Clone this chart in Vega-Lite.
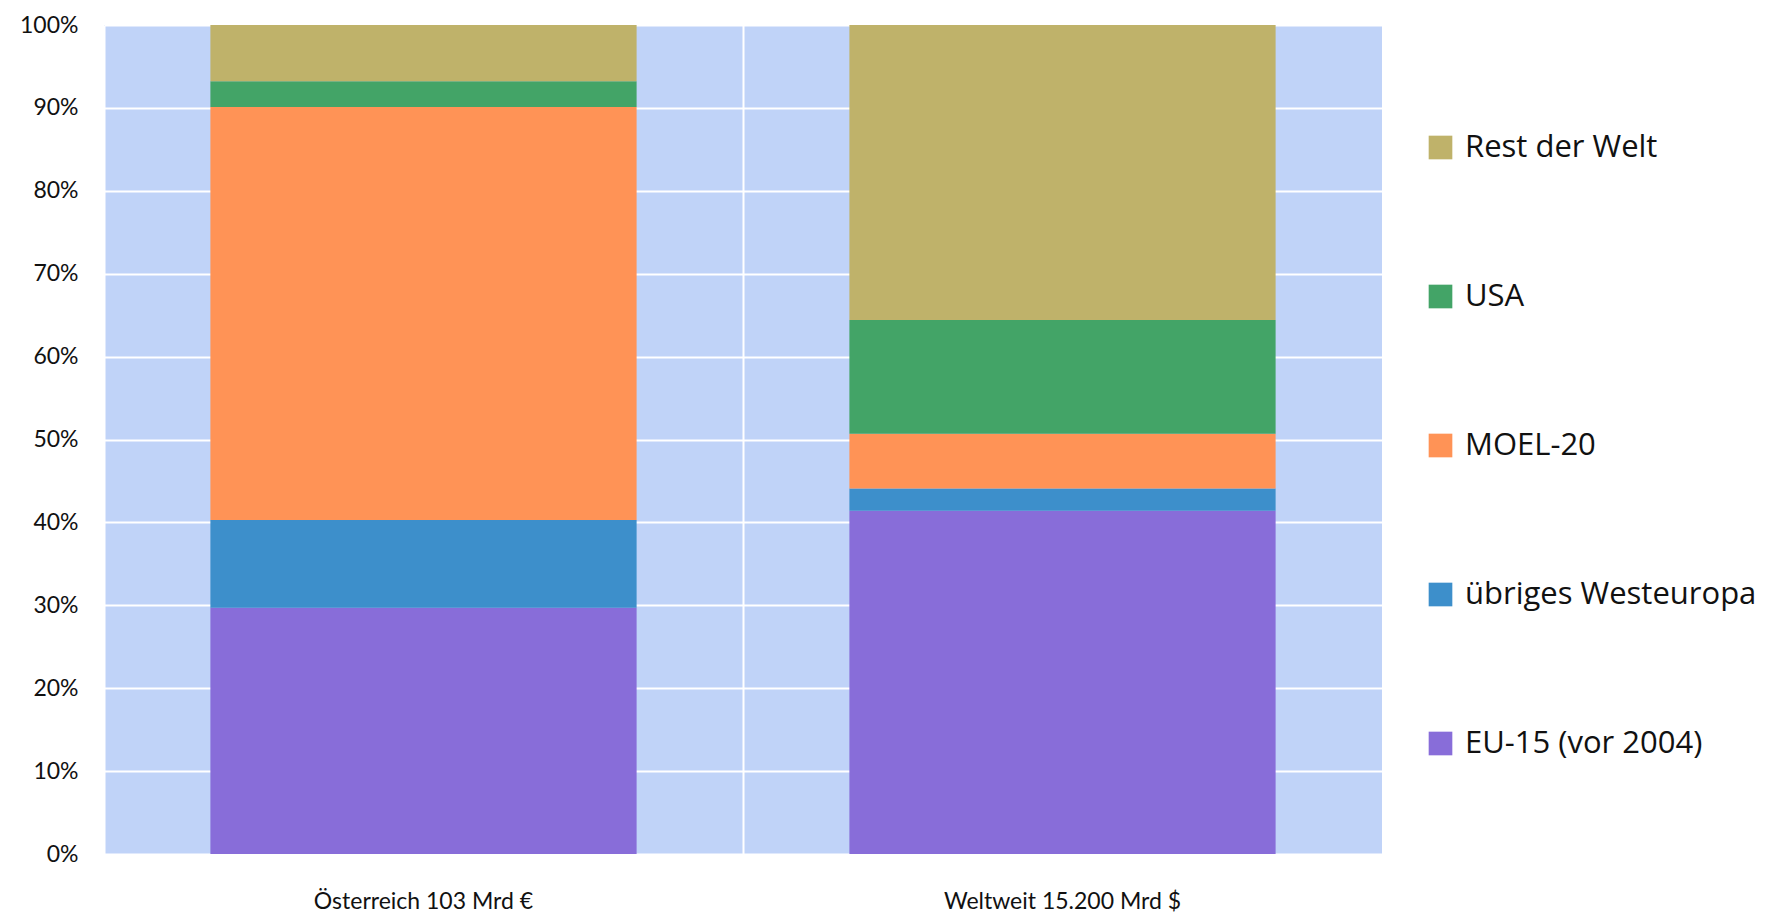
{
  "$schema": "https://vega.github.io/schema/vega-lite/v6.json",
  "width": 1278,
  "height": 829,
  "autosize": "none",
  "padding": {"left": 104, "top": 25, "right": 398, "bottom": 64},
  "background": "white",
  "config": {
    "view": {"fill": "#C0D3F8", "stroke": null},
    "font": "Lato"
  },
  "data": {
    "values": [
      {"Markt": "Österreich 103 Mrd €", "Region": "EU-15 (vor 2004)", "Anteil": 29.7},
      {"Markt": "Österreich 103 Mrd €", "Region": "übriges Westeuropa", "Anteil": 10.6},
      {"Markt": "Österreich 103 Mrd €", "Region": "MOEL-20", "Anteil": 49.8},
      {"Markt": "Österreich 103 Mrd €", "Region": "USA", "Anteil": 3.1},
      {"Markt": "Österreich 103 Mrd €", "Region": "Rest der Welt", "Anteil": 6.8},
      {"Markt": "Weltweit 15.200 Mrd $", "Region": "EU-15 (vor 2004)", "Anteil": 41.4},
      {"Markt": "Weltweit 15.200 Mrd $", "Region": "übriges Westeuropa", "Anteil": 2.7},
      {"Markt": "Weltweit 15.200 Mrd $", "Region": "MOEL-20", "Anteil": 6.6},
      {"Markt": "Weltweit 15.200 Mrd $", "Region": "USA", "Anteil": 13.7},
      {"Markt": "Weltweit 15.200 Mrd $", "Region": "Rest der Welt", "Anteil": 35.6}
    ]
  },
  "transform": [
    {"calculate": "indexof(['EU-15 (vor 2004)', 'übriges Westeuropa', 'MOEL-20', 'USA', 'Rest der Welt'], datum.Region)", "as": "Stapel"}
  ],
  "mark": {"type": "bar", "width": {"band": 0.667}},
  "encoding": {
    "x": {
      "field": "Markt",
      "type": "nominal",
      "sort": null,
      "scale": {"paddingInner": 0, "paddingOuter": 0},
      "axis": {
        "title": null,
        "labelAngle": 0,
        "labelFontSize": 23,
        "labelColor": "#111",
        "labelPadding": 36,
        "labelLimit": 500,
        "ticks": false,
        "domain": false,
        "grid": true,
        "gridColor": "white",
        "gridWidth": 2,
        "bandPosition": 0
      }
    },
    "y": {
      "field": "Anteil",
      "type": "quantitative",
      "stack": "zero",
      "scale": {"domain": [0, 100], "nice": false},
      "axis": {
        "title": null,
        "values": [0, 10, 20, 30, 40, 50, 60, 70, 80, 90, 100],
        "labelExpr": "datum.value + '%'",
        "labelFontSize": 23,
        "labelColor": "#111",
        "labelPadding": 26,
        "ticks": false,
        "domain": false,
        "gridColor": "white",
        "gridWidth": 2
      }
    },
    "order": {"field": "Stapel", "type": "quantitative", "sort": "ascending"},
    "color": {
      "field": "Region",
      "type": "nominal",
      "scale": {
        "domain": ["Rest der Welt", "USA", "MOEL-20", "übriges Westeuropa", "EU-15 (vor 2004)"],
        "range": ["#BFB26A", "#43A467", "#FF9356", "#3D8FCB", "#886DD9"]
      },
      "legend": {
        "title": null,
        "orient": "none",
        "legendX": 1321,
        "legendY": 107,
        "symbolType": "square",
        "symbolSize": 560,
        "symbolStrokeWidth": 0,
        "labelFont": "Open Sans",
        "labelFontSize": 31,
        "labelColor": "#111",
        "labelOffset": 9,
        "rowPadding": 117,
        "labelLimit": 420
      }
    }
  }
}
